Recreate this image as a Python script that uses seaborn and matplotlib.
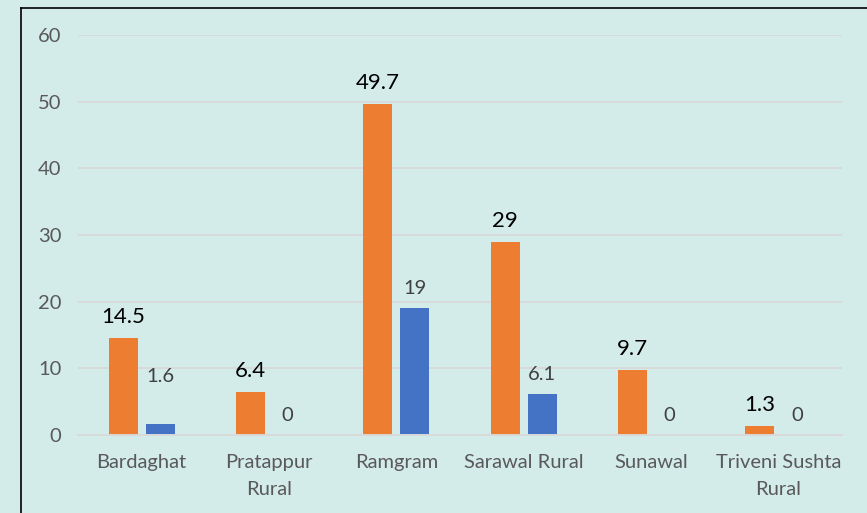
import matplotlib
matplotlib.use("Agg")
import matplotlib.pyplot as plt
import seaborn as sns
import pandas as pd
from matplotlib.lines import Line2D

categories = ["Bardaghat", "Pratappur\nRural", "Ramgram", "Sarawal Rural", "Sunawal", "Triveni Sushta\nRural"]
series_orange = [14.5, 6.4, 49.7, 29, 9.7, 1.3]
series_blue = [1.6, 0, 19, 6.1, 0, 0]
series_names = ["Series 1", "Series 2"]
yticks = [0, 10, 20, 30, 40, 50, 60]

df = pd.DataFrame({
    "category": categories * 2,
    "value": series_orange + series_blue,
    "series": [series_names[0]] * len(categories) + [series_names[1]] * len(categories),
})

BG = "#D3ECEA"
FONT = ["Lato", "DejaVu Sans"]
plt.rcParams["font.family"] = FONT

fig = plt.figure(figsize=(8.67, 5.13), dpi=100, facecolor=BG)
ax = fig.add_axes([78 / 867, 1 - 435 / 513, (842 - 78) / 867, 400 / 513])
ax.set_facecolor(BG)

sns.barplot(data=df, x="category", y="value", hue="series", hue_order=series_names,
            palette=["#ED7D31", "#4472C4"], width=0.58, gap=0.21, ax=ax,
            legend=False, saturation=1, edgecolor="none")

ax.set_ylim(0, 60)
ax.set_yticks(yticks)
ax.set_xlim(-0.5, len(categories) - 0.5)
ax.yaxis.grid(True, color="#D9D9D9", linewidth=1.4)
ax.set_axisbelow(True)
for s in ["top", "right", "left"]:
    ax.spines[s].set_visible(False)
ax.spines["bottom"].set_color("#D9D9D9")
ax.spines["bottom"].set_linewidth(1.4)
ax.tick_params(axis="both", length=0, labelsize=14.5, labelcolor="#595959")
ax.tick_params(axis="y", pad=12)
ax.tick_params(axis="x", pad=14)
for lab in ax.get_xticklabels():
    lab.set_linespacing(1.65)
ax.set_xlabel("")
ax.set_ylabel("")

# data labels
orange_bars = ax.containers[0]
blue_bars = ax.containers[1]
for bar, v in zip(orange_bars, series_orange):
    ax.annotate(f"{v:g}", (bar.get_x() + bar.get_width() / 2, bar.get_height()),
                xytext=(0, 8), textcoords="offset points", ha="center", va="bottom",
                fontsize=16, color="#000000")
blue_offsets = [28, 8, 8, 8, 8, 8]
for bar, v, off in zip(blue_bars, series_blue, blue_offsets):
    ax.annotate(f"{v:g}", (bar.get_x() + bar.get_width() / 2, bar.get_height()),
                xytext=(0, off), textcoords="offset points", ha="center", va="bottom",
                fontsize=14.5, color="#404040")

# outer frame
fig.add_artist(Line2D([21 / 867, 21 / 867], [0, 1 - 8 / 513], transform=fig.transFigure,
                      color="black", linewidth=1.2))
fig.add_artist(Line2D([21 / 867, 1], [1 - 8 / 513, 1 - 8 / 513], transform=fig.transFigure,
                      color="black", linewidth=1.2))

fig.savefig("out.png", dpi=100, facecolor=BG)
